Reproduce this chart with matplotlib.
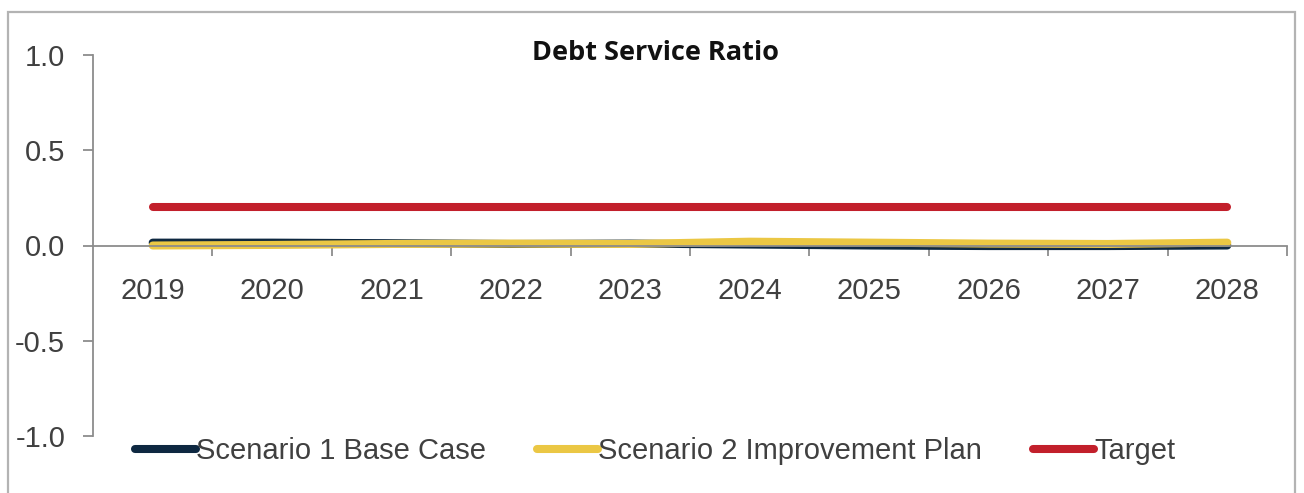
import matplotlib
matplotlib.use("Agg")
import matplotlib.pyplot as plt
from matplotlib.patches import Rectangle
import numpy as np

plt.rcParams['font.family'] = ['Liberation Sans', 'DejaVu Sans']

years = ['2019', '2020', '2021', '2022', '2023', '2024', '2025', '2026', '2027', '2028']
scenario1 = [0.015, 0.015, 0.012, 0.008, 0.01, 0.005, 0.0, -0.003, -0.003, 0.0]
scenario2 = [0.0, 0.003, 0.008, 0.01, 0.008, 0.02, 0.015, 0.01, 0.008, 0.015]
target = [0.2] * 10
series_names = ['Scenario 1 Base Case', 'Scenario 2 Improvement Plan', 'Target']
title = 'Debt Service Ratio'

W, H = 1304, 493
fig = plt.figure(figsize=(W / 100, H / 100), dpi=100)
fig.patch.set_facecolor('white')

left, right = 93 / W, 1287 / W
bottom, top = (H - 436) / H, (H - 55) / H
ax = fig.add_axes([left, bottom, right - left, top - bottom])

x = np.arange(len(years))
lw = 5.8
l1, = ax.plot(x, scenario1, color='#0E2841', lw=lw, solid_capstyle='round', label=series_names[0])
l2, = ax.plot(x, scenario2, color='#EBC744', lw=lw, solid_capstyle='round', label=series_names[1])
l3, = ax.plot(x, target, color='#C21F2B', lw=lw, solid_capstyle='round', label=series_names[2])

ax.set_xlim(-0.5, len(years) - 0.5)
ax.set_ylim(-1.0, 1.0)
ax.set_yticks([-1.0, -0.5, 0.0, 0.5, 1.0])
ax.set_yticklabels(['-1.0', '-0.5', '0.0', '0.5', '1.0'])

for s in ['top', 'right']:
    ax.spines[s].set_visible(False)
ax.spines['bottom'].set_position(('data', 0))
spine_col = '#8c8c8c'
for s in ['left', 'bottom']:
    ax.spines[s].set_color(spine_col)
    ax.spines[s].set_linewidth(1.3)

ax.set_xticks(x)
ax.set_xticklabels(years)
ax.set_xticks(np.arange(0.5, len(years), 1.0), minor=True)
ax.tick_params(axis='x', which='major', length=0, pad=23, labelsize=21, labelcolor='#404040')
ax.tick_params(axis='x', which='minor', length=7, width=1.3, color=spine_col, direction='out')
ax.tick_params(axis='y', which='major', length=7, width=1.3, color=spine_col, direction='out',
               pad=13, labelsize=21, labelcolor='#404040')
ax.set_facecolor('none')

fig.text(655 / W, 1 - 53 / H, title, ha='center', va='center', fontsize=19.5,
         fontweight='bold', color='#111111', family=['Open Sans', 'DejaVu Sans'])

leg = fig.legend(handles=[l1, l2, l3], loc='center', bbox_to_anchor=(655 / W, 1 - 451 / H),
                 ncol=3, frameon=False, fontsize=21, handlelength=2.1, handletextpad=0.0,
                 columnspacing=1.75, labelcolor='#404040')

fig.add_artist(Rectangle((8 / W, -0.02), (1295 - 8) / W, (H - 12) / H + 0.02,
                         transform=fig.transFigure, fill=False, edgecolor='#b3b3b3',
                         lw=1.6, clip_on=False))

fig.savefig('out.png', dpi=100)
